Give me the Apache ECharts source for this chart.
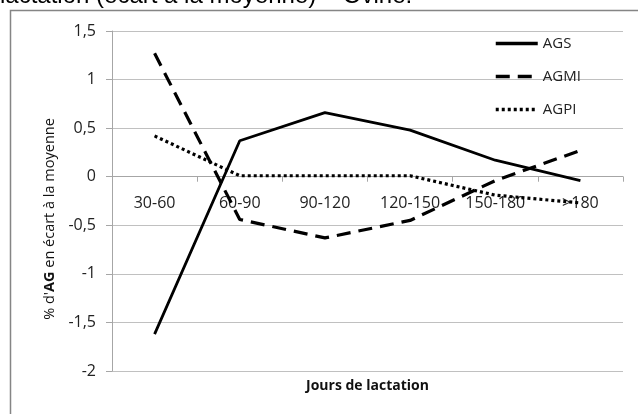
<!DOCTYPE html>
<html>
<head>
<meta charset="utf-8">
<script src="https://cdn.jsdelivr.net/npm/echarts@6/dist/echarts.min.js"></script>
<style>
  html, body { margin: 0; padding: 0; background: #fff; }
  #chart { width: 638px; height: 414px; }
</style>
</head>
<body>
<div id="chart"></div>
<script>
// jours de lactation
var categories = ['30-60', '60-90', '90-120', '120-150', '150-180', '>180'];
// % d'AG en écart à la moyenne
var ags = [-1.62, 0.37, 0.66, 0.48, 0.17, -0.04];
var agmi = [1.27, -0.44, -0.63, -0.45, -0.04, 0.27];
var agpi = [0.42, 0.01, 0.01, 0.01, -0.19, -0.27];
var yTicks = { min: -2, max: 1.5, interval: 0.5 };

var FONT = '"Open Sans", sans-serif';
var myChart = echarts.init(document.getElementById('chart'));

var option = {
    animation: false,
    backgroundColor: '#fff',
    graphic: [
        {
            type: 'text',
            left: 0,
            top: -16,
            style: {
                text: 'lactation (écart à la moyenne) – Ovine.',
                font: '24px "Liberation Sans", Arial, sans-serif',
                fill: '#000'
            }
        },
        {
            type: 'rect',
            shape: { x: 10.5, y: 10.5, width: 700, height: 500 },
            style: { fill: 'none', stroke: '#858585', lineWidth: 1.5 }
        }
    ],
    grid: {
        left: 112,
        right: 15,
        top: 31,
        bottom: 43,
        containLabel: false,
        outerBoundsMode: 'none'
    },
    legend: {
        orient: 'vertical',
        left: 489,
        top: 31,
        itemWidth: 42,
        itemHeight: 14,
        itemGap: 18,
        itemStyle: { opacity: 0 },
        lineStyle: { width: 3.5 },
        textStyle: { fontFamily: FONT, fontSize: 15, color: '#222' },
        data: ['AGS', 'AGMI', 'AGPI']
    },
    xAxis: [
        {
            type: 'category',
            data: categories,
            position: 'bottom',
            axisLine: { onZero: false, lineStyle: { color: '#a6a6a6', width: 1 } },
            axisTick: { show: true, length: 5, lineStyle: { color: '#a6a6a6' } },
            axisLabel: { fontFamily: FONT, fontSize: 16, color: '#222', margin: 19 }
        },
        {
            // axe fantôme pour le titre en bas
            type: 'category',
            data: categories,
            position: 'bottom',
            name: 'Jours de lactation',
            nameLocation: 'middle',
            nameGap: 8,
            nameTextStyle: { fontFamily: FONT, fontSize: 14, fontWeight: 'bold', color: '#111' },
            axisLine: { show: false, onZero: false },
            axisTick: { show: false },
            axisLabel: { show: false },
            splitLine: { show: false }
        }
    ],
    yAxis: {
        type: 'value',
        min: yTicks.min,
        max: yTicks.max,
        interval: yTicks.interval,
        name: "% d'{b|AG} en écart à la moyenne",
        nameLocation: 'middle',
        nameGap: 55,
        nameTextStyle: {
            fontFamily: FONT, fontSize: 14.5, color: '#111',
            padding: [0, 36, 0, 0],
            rich: { b: { fontFamily: FONT, fontSize: 14.5, fontWeight: 'bold', color: '#111' } }
        },
        axisLine: { show: true, lineStyle: { color: '#a6a6a6', width: 1 } },
        axisTick: { show: true, length: 6, lineStyle: { color: '#a6a6a6' } },
        axisLabel: {
            fontFamily: FONT, fontSize: 16, color: '#222', margin: 16,
            formatter: function (v) { return String(v).replace('.', ','); }
        },
        splitLine: { show: true, lineStyle: { color: '#c0c0c0', width: 1 } }
    },
    series: [
        {
            name: 'AGS', type: 'line', data: ags, symbol: 'none',
            itemStyle: { color: '#000' },
            lineStyle: { color: '#000', width: 2.8, type: 'solid' }
        },
        {
            name: 'AGMI', type: 'line', data: agmi, symbol: 'none',
            itemStyle: { color: '#000' },
            lineStyle: { color: '#000', width: 3.2, type: [14, 8], cap: 'butt' }
        },
        {
            name: 'AGPI', type: 'line', data: agpi, symbol: 'none',
            itemStyle: { color: '#000' },
            lineStyle: { color: '#000', width: 3.2, type: [3, 3], cap: 'butt' }
        }
    ]
};
myChart.setOption(option);

// remonter l'axe des catégories sur la ligne du zéro
var yZero = myChart.convertToPixel({ yAxisIndex: 0 }, 0);
var yBottom = myChart.convertToPixel({ yAxisIndex: 0 }, yTicks.min);
myChart.setOption({ xAxis: [{ offset: yZero - yBottom }, {}] });
</script>
</body>
</html>
